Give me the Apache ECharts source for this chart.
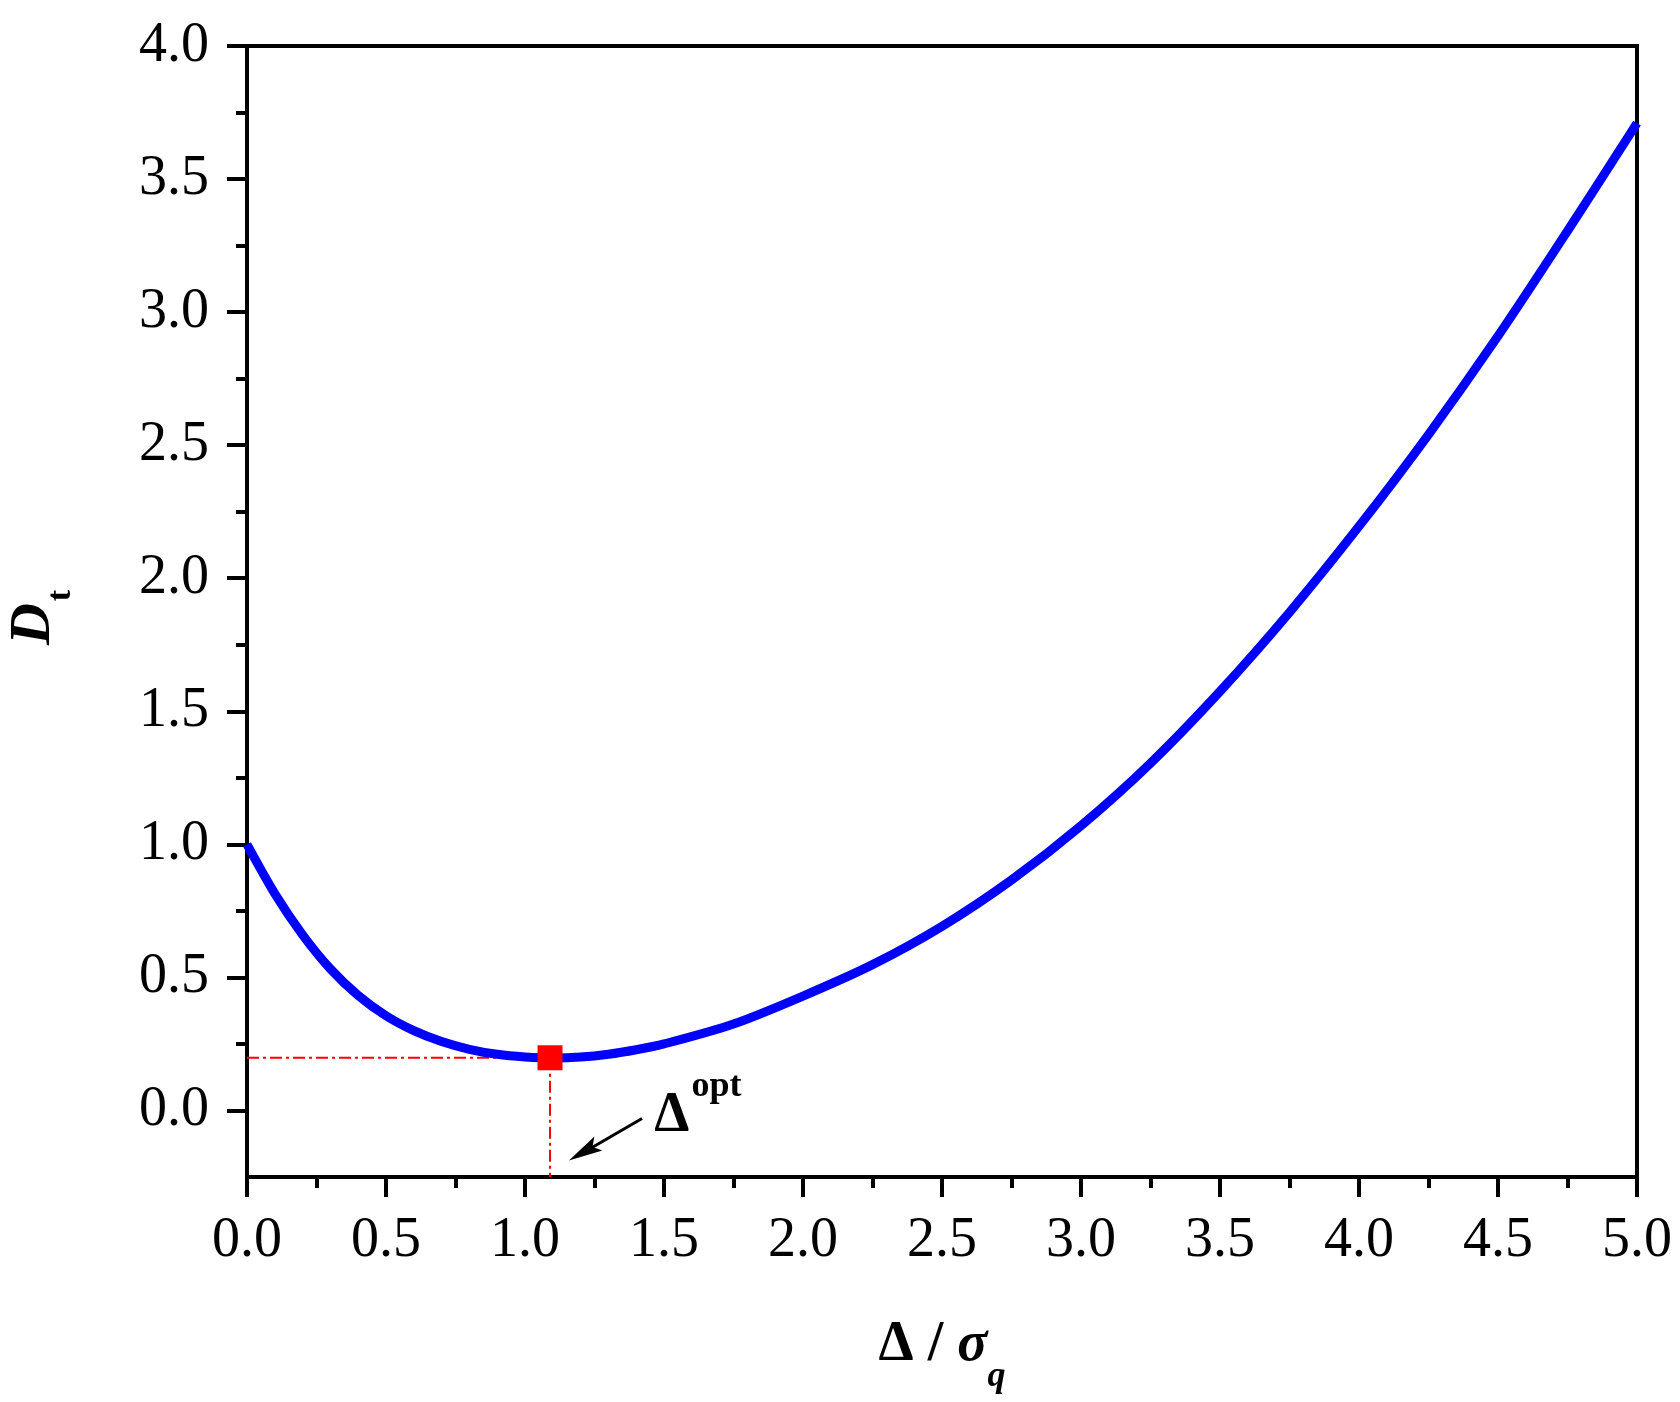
<!DOCTYPE html>
<html>
<head>
<meta charset="UTF-8">
<title>D_t vs Δ/σq</title>
<script src="https://cdn.jsdelivr.net/npm/echarts@6/dist/echarts.min.js"></script>
<style>
  html, body { margin: 0; padding: 0; background: #fff; }
  #container { width: 1680px; height: 1402px; }
</style>
</head>
<body>
<div id="container"></div>
<script>
// curve values
var deltaRatio = [0, 0.1, 0.2, 0.3, 0.4, 0.5, 0.6, 0.7, 0.8, 0.9, 1.0, 1.1, 1.2, 1.3, 1.4, 1.5,
                  1.75, 2.0, 2.25, 2.5, 2.75, 3.0, 3.25, 3.5, 3.75, 4.0, 4.25, 4.5, 4.75, 5.0];
var distortion = [1.00, 0.815, 0.66, 0.532, 0.432, 0.356, 0.300, 0.259, 0.230, 0.211, 0.201, 0.197, 0.2005, 0.211, 0.228, 0.250,
                  0.325, 0.430, 0.548, 0.692, 0.866, 1.070, 1.305, 1.575, 1.872, 2.195, 2.54, 2.91, 3.305, 3.71];

// optimum point
var optX = 1.09;
var optY = 0.198;

// axes
var xMin = 0, xMax = 5, xStep = 0.5;
var yMin = -0.25, yMax = 4.0;
var yTicks = [0, 0.5, 1.0, 1.5, 2.0, 2.5, 3.0, 3.5, 4.0];
var yMinorTicks = [0.25, 0.75, 1.25, 1.75, 2.25, 2.75, 3.25, 3.75];

// annotation: arrow shaft, arrow head centre and the label anchor (data coords)
var arrowFrom = [1.421, -0.030];
var arrowTo = [1.232, -0.145];
var arrowHead = [1.211, -0.156];
var arrowAngle = 120;
var labelAt = [1.622, 0.045];

var FONT = '"Liberation Serif", "Times New Roman", serif';
var ARROW_HEAD = 'path://M0,0 L7,30 L0,24 L-7,30 Z';

var curve = deltaRatio.map(function (x, i) { return [x, distortion[i]]; });

var dom = document.getElementById('container');
var myChart = echarts.init(dom, null, { renderer: 'canvas' });

var option = {
    backgroundColor: '#fff',
    animation: false,
    grid: {
        left: 247, right: 43, top: 46, bottom: 225,
        show: true, borderColor: '#000', borderWidth: 4,
        outerBoundsMode: 'none'
    },
    xAxis: {
        type: 'value', min: xMin, max: xMax, interval: xStep,
        position: 'bottom',
        name: '{a|Δ / }{s|σ}{q|q}',
        nameLocation: 'middle', nameGap: 139,
        nameTextStyle: {
            rich: {
                a: { fontFamily: FONT, fontSize: 56, fontWeight: 'bold', color: '#000', lineHeight: 60, verticalAlign: 'middle' },
                s: { fontFamily: FONT, fontSize: 56, fontWeight: 'bold', fontStyle: 'italic', color: '#000', lineHeight: 60, verticalAlign: 'middle' },
                q: { fontFamily: FONT, fontSize: 36, fontStyle: 'italic', fontWeight: 'bold', color: '#000', lineHeight: 36, padding: [62, 0, 0, 0], verticalAlign: 'middle' }
            }
        },
        axisLine: { onZero: false, lineStyle: { color: '#000', width: 4 } },
        axisTick: { inside: false, length: 20, lineStyle: { color: '#000', width: 4 } },
        minorTick: { show: true, splitNumber: 2, length: 11, lineStyle: { color: '#000', width: 4 } },
        axisLabel: {
            margin: 36, fontFamily: FONT, fontSize: 56, color: '#000',
            formatter: function (v) { return v.toFixed(1); }
        },
        splitLine: { show: false }
    },
    yAxis: [{
        type: 'value', min: yMin, max: yMax,
        position: 'left',
        name: '{d|D}{t|t}',
        nameLocation: 'middle', nameGap: 183, nameRotate: 90,
        nameTextStyle: {
            rich: {
                d: { fontFamily: FONT, fontSize: 58, fontWeight: 'bold', fontStyle: 'italic', color: '#000', lineHeight: 60, verticalAlign: 'middle' },
                t: { fontFamily: FONT, fontSize: 34, fontWeight: 'bold', color: '#000', lineHeight: 34, padding: [54, 12, 0, 2], verticalAlign: 'middle' }
            }
        },
        axisLine: { onZero: false, lineStyle: { color: '#000', width: 4 } },
        axisTick: { customValues: yTicks, length: 20, lineStyle: { color: '#000', width: 4 } },
        axisLabel: {
            customValues: yTicks,
            margin: 38, fontFamily: FONT, fontSize: 56, color: '#000',
            formatter: function (v) { return v.toFixed(1); }
        },
        splitLine: { show: false }
    }, {
        // minor ticks only
        type: 'value', min: yMin, max: yMax,
        position: 'left',
        axisLine: { show: false, onZero: false },
        axisTick: { customValues: yMinorTicks, length: 11, lineStyle: { color: '#000', width: 4 } },
        axisLabel: { show: false },
        splitLine: { show: false }
    }],
    series: [
        {
            name: 'Dt',
            type: 'line',
            yAxisIndex: 0,
            data: curve,
            smooth: 0.3,
            showSymbol: false,
            lineStyle: { color: '#0000ff', width: 9 },
            z: 3
        },
        {
            name: 'guide-h',
            type: 'line',
            yAxisIndex: 0,
            data: [[xMin, optY], [optX, optY]],
            showSymbol: false,
            lineStyle: { color: '#ff0000', width: 2, type: [12, 4, 3, 4] },
            z: 2
        },
        {
            name: 'guide-v',
            type: 'line',
            yAxisIndex: 0,
            data: [[optX, optY], [optX, yMin]],
            showSymbol: false,
            lineStyle: { color: '#ff0000', width: 2, type: [12, 4, 3, 4] },
            z: 2
        },
        {
            name: 'arrow-head',
            type: 'scatter',
            yAxisIndex: 0,
            silent: true,
            data: [arrowHead],
            symbol: ARROW_HEAD,
            symbolSize: [16, 34],
            symbolRotate: arrowAngle,
            itemStyle: { color: '#000', opacity: 1 },
            z: 4
        },
        {
            name: 'opt',
            type: 'scatter',
            yAxisIndex: 0,
            data: [[optX, optY]],
            symbol: 'rect',
            symbolSize: 25,
            itemStyle: { color: '#ff0000', opacity: 1 },
            z: 5,
            markLine: {
                silent: true,
                symbol: ['none', 'none'],
                label: { show: false },
                lineStyle: { color: '#000', width: 3, type: 'solid', opacity: 1 },
                data: [[{ coord: arrowFrom }, { coord: arrowTo }]]
            },
            markPoint: {
                silent: true,
                symbol: 'circle',
                symbolSize: 0,
                data: [{ coord: labelAt }],
                label: {
                    show: true,
                    position: 'inside',
                    formatter: '{d|Δ}{o|opt}',
                    rich: {
                        d: { fontFamily: FONT, fontSize: 56, fontWeight: 'bold', color: '#000', lineHeight: 60, padding: [36, 0, 0, 0], verticalAlign: 'middle' },
                        o: { fontFamily: FONT, fontSize: 36, fontWeight: 'bold', color: '#000', lineHeight: 36, padding: [0, 0, 0, 2], verticalAlign: 'top' }
                    }
                }
            }
        }
    ]
};

if (option && typeof option === 'object') {
    myChart.setOption(option, true);
}
</script>
</body>
</html>
